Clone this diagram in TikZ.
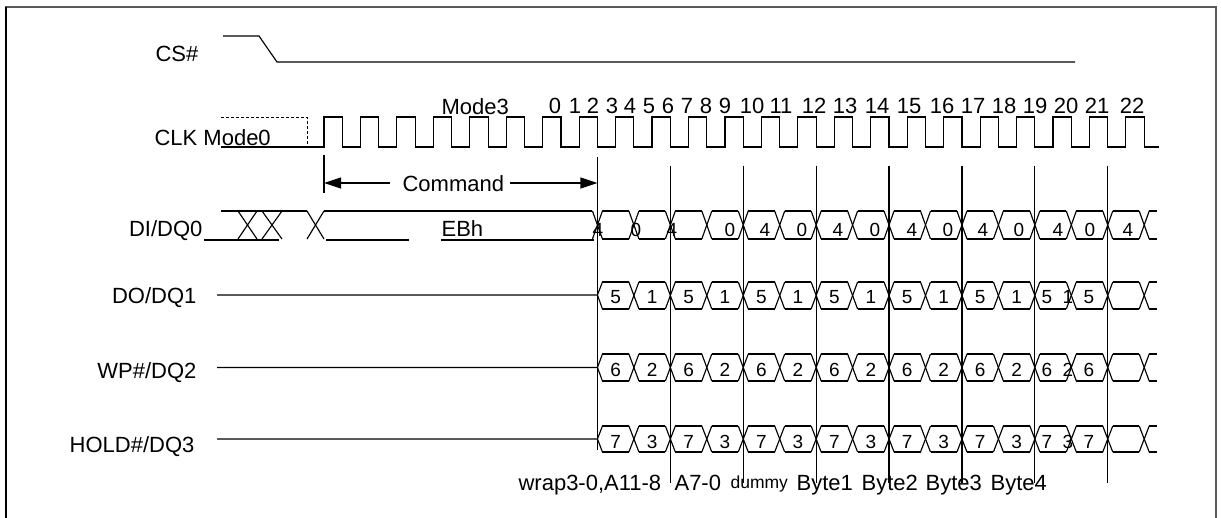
\documentclass[tikz,border=0pt]{standalone}
\usepackage{fontspec}
\setmainfont{Liberation Sans}
\usetikzlibrary{arrows.meta}
\newcommand{\busrow}[2]{%
 \foreach \k in {7,...,21} {
   \draw ({342.3+36.45*\k+5},#1) -- ({342.3+36.45*(\k+1)-5},#1);
   \draw ({342.3+36.45*\k+5},#2) -- ({342.3+36.45*(\k+1)-5},#2);
 }
 \foreach \k in {8,...,22} {
   \draw ({342.3+36.45*\k-5},#1) -- ({342.3+36.45*\k+5},#2);
   \draw ({342.3+36.45*\k-5},#2) -- ({342.3+36.45*\k+5},#1);
 }
 \draw ({342.3+36.45*22+5},#1) -- (1157,#1);
 \draw ({342.3+36.45*22+5},#2) -- (1157,#2);
}
\begin{document}
\begin{tikzpicture}[x=1pt,y=-1pt,line width=1.15pt,
  lbl/.style={inner sep=0pt,font=\fontsize{22}{26}\selectfont},
  dig/.style={inner sep=0pt,anchor=base,font=\fontsize{19}{22}\selectfont},
  cmdarrow/.style={-{Triangle[length=17pt,width=11pt]}}]
\useasboundingbox (0,0) rectangle (1221,518);
% frame
\draw[black!65] (6,518) -- (6,7) -- (1216,7) -- (1216,518);
\draw (6,7) -- (6,518);
% CS#
\node[lbl,anchor=base west] (cs) at (155,62) {CS\#};
\draw (223,36) -- (259,36) -- (277,62) -- (1075,62);
% CLK
\node[lbl,anchor=base west] (clk) at (154,146) {CLK Mode0};
\draw[dashed,dash pattern=on 3pt off 2pt,line width=0.9pt] (221,117) -- (307,117) -- (307,147);
\draw[line join=miter] (221,147) foreach \k in {0,...,22} { -- ({324+36.45*\k},147) -- ({324+36.45*\k},117) -- ({342.3+36.45*\k},117) -- ({342.3+36.45*\k},147) } -- (1159,147);
\node[lbl,anchor=base west] (mode3) at (441,115) {Mode3};
\foreach \x/\n [count=\i] in {555/0,575/1,593/2,612/3,630/4,649/5,668/6,687/7,706/8,725/9,752/10,781/11,814/12,845/13,877/14,909/15,942/16,973/17,1004/18,1035/19,1066/20,1097/21,1132/22}
  { \node[lbl,anchor=base] (n\i) at (\x,114) {\n}; }
% Command arrow
\coordinate (cmdL) at (324,183);
\coordinate (cmdR) at (597.45,183);
\draw (324,155) -- (324,193);
\node[lbl,anchor=base west] (cmd) at (402,192) {Command};
\draw[cmdarrow] (390,183) -- (cmdL);
\draw[cmdarrow] (510,183) -- (cmdR);
% vertical lines
\draw (597.45,157) -- (597.45,450);
\foreach \k in {9,11,...,21} { \draw ({342.3+36.45*\k},166) -- ({342.3+36.45*\k},483); }
% DI/DQ0
\node[lbl,anchor=base east] (dq0) at (203,237) {DI/DQ0};
\draw (221,211) -- (307,211);
\draw (238,211) -- (257,239); \draw (238,239) -- (257,211);
\draw (262,211) -- (282,239); \draw (262,239) -- (282,211);
\draw (307,211) -- (324,239); \draw (307,239) -- (324,211);
\draw (324,211) -- (592.45,211);
\draw[line width=2pt] (204,240) -- (279,240);
\draw[line width=2pt] (326,240) -- (409,240);
\draw[line width=2pt] (441,240) -- (594,240);
\node[lbl,anchor=base west] (ebh) at (441,237) {EBh};
\draw (592.45,211) -- (602.45,239); \draw (592.45,239) -- (602.45,211);
\busrow{211}{239}
\foreach \x/\v in {598/4,636/0,672/4,730/0,765/4,802/0,838/4,875/0,912/4,948/0,983/4,1019/0,1058/4,1090/0,1128/4}
  { \node[dig] at (\x,237) {\v}; }
% DO/DQ1
\node[lbl,anchor=base east] (dq1) at (197,304) {DO/DQ1};
\draw (217,295) -- (597.45,295) -- (602.45,282); \draw (597.45,295) -- (602.45,309);
\busrow{282}{309}
\foreach \i in {0,...,11} { \pgfmathtruncatemacro{\v}{ifthenelse(mod(\i,2)==0,5,1)}
  \node[dig] at ({342.3+36.45*(7+\i)+18.2},304) {\v}; }
\node[dig] at (1047,304) {5}; \node[dig] at (1068,304) {1}; \node[dig] at (1089,304) {5};
% WP#/DQ2
\node[lbl,anchor=base east] (dq2) at (197,379) {WP\#/DQ2};
\draw (217,367.5) -- (597.45,367.5) -- (602.45,354); \draw (597.45,367.5) -- (602.45,381);
\busrow{354}{381}
\foreach \i in {0,...,11} { \pgfmathtruncatemacro{\v}{ifthenelse(mod(\i,2)==0,6,2)}
  \node[dig] at ({342.3+36.45*(7+\i)+18.2},377) {\v}; }
\node[dig] at (1047,377) {6}; \node[dig] at (1068,377) {2}; \node[dig] at (1089,377) {6};
% HOLD#/DQ3
\node[lbl,anchor=base east] (dq3) at (195,452) {HOLD\#/DQ3};
\draw (217,439) -- (597.45,439) -- (602.45,426); \draw (597.45,439) -- (602.45,452);
\busrow{426}{452}
\foreach \i in {0,...,11} { \pgfmathtruncatemacro{\v}{ifthenelse(mod(\i,2)==0,7,3)}
  \node[dig] at ({342.3+36.45*(7+\i)+18.2},448) {\v}; }
\node[dig] at (1047,448) {7}; \node[dig] at (1068,448) {3}; \node[dig] at (1089,448) {7};
% bottom labels
\node[lbl,anchor=base west] (b1) at (518,490) {wrap3-0,A11-8};
\node[lbl,anchor=base west] (b2) at (674,490) {A7-0};
\node[inner sep=0pt,anchor=base west,font=\fontsize{17.5}{20}\selectfont] (b3) at (730,488) {dummy};
\node[lbl,anchor=base west] (b4) at (796,490) {Byte1};
\node[lbl,anchor=base west] (b5) at (861,490) {Byte2};
\node[lbl,anchor=base west] (b6) at (925,490) {Byte3};
\node[lbl,anchor=base west] (b7) at (990,490) {Byte4};
\end{tikzpicture}
\end{document}
